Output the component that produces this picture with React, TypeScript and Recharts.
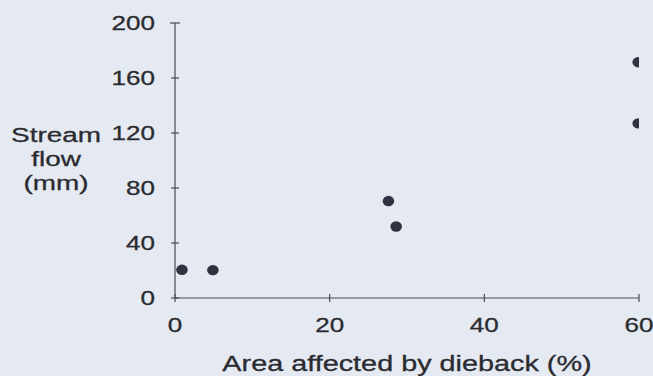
import React from 'react';
import { ScatterChart, Scatter, XAxis, YAxis, Label } from 'recharts';

const dieback = [0.9, 4.9, 27.6, 28.6, 59.9, 59.9];
const streamflow = [20.5, 20.3, 70.5, 52, 171.5, 127];
const xTicks = [0, 20, 40, 60];
const yTicks = [0, 40, 80, 120, 160, 200];
const yLabelLines = ['Stream', 'flow', '(mm)'];
const xLabelText = 'Area affected by dieback (%)';

const points = dieback.map((d, i) => ({ x: d, y: streamflow[i] }));

const FONT = "'Liberation Sans', Arial, sans-serif";
const TEXT = '#2a2b30';
const AXIS = '#4a4c52';
const DOT = '#2f3240';
const BG = '#e5e9f1';
const STRETCH = 1.27;
const Y_GAP = 20;
const X_GAP = 27;

const YTick = (props: any) => {
  const { x, y, payload } = props;
  const ax = x + Y_GAP;
  const isTop = payload.value === 200;
  return (
    <g>
      <line x1={ax - (isTop ? 5 : 4)} x2={ax + (isTop ? 5 : 4)} y1={y} y2={y} stroke={AXIS} strokeWidth={1.2} />
      <text
        transform={`translate(${x},${y}) scale(${STRETCH},1)`}
        textAnchor="end"
        dominantBaseline="central"
        fontFamily={FONT}
        fontSize={20.5}
        fill={TEXT}
        stroke={TEXT}
        strokeWidth={0.3}
      >
        {payload.value}
      </text>
    </g>
  );
};

const XTick = (props: any) => {
  const { x, y, payload } = props;
  const ay = y - X_GAP;
  return (
    <g>
      <line x1={x} x2={x} y1={ay - 4} y2={ay + 4} stroke={AXIS} strokeWidth={1.2} />
      <text
        transform={`translate(${x},${y}) scale(${STRETCH},1)`}
        textAnchor="middle"
        dominantBaseline="central"
        fontFamily={FONT}
        fontSize={20.5}
        fill={TEXT}
        stroke={TEXT}
        strokeWidth={0.3}
      >
        {payload.value}
      </text>
    </g>
  );
};

const YLabel = (props: any) => {
  const vb = props.viewBox || { x: 0, y: 23, width: 175, height: 275 };
  const cy = vb.y + vb.height / 2;
  const cx = 56;
  const offsets = [-18.5, 5.5, 29.5];
  return (
    <g>
      {yLabelLines.map((t, i) => (
        <text
          key={t}
          transform={`translate(${cx},${cy + offsets[i]}) scale(1.33,1)`}
          textAnchor="middle"
          fontFamily={FONT}
          fontSize={21}
          fill={TEXT}
          stroke={TEXT}
          strokeWidth={0.3}
        >
          {t}
        </text>
      ))}
    </g>
  );
};

const XLabel = (props: any) => {
  const vb = props.viewBox || { x: 175, y: 298, width: 464, height: 78 };
  const cx = vb.x + vb.width / 2;
  const by = vb.y + 73;
  return (
    <text
      transform={`translate(${cx},${by}) scale(1.31,1)`}
      textAnchor="middle"
      fontFamily={FONT}
      fontSize={22}
      fill={TEXT}
      stroke={TEXT}
      strokeWidth={0.3}
    >
      {xLabelText}
    </text>
  );
};

const Dot = (props: any) => {
  const { cx, cy } = props;
  return <ellipse cx={cx} cy={cy} rx={5.8} ry={5.2} fill={DOT} />;
};

export default function App() {
  return (
    <div style={{ position: 'absolute', left: 0, top: 0, width: 653, height: 376, background: BG }}>
      <ScatterChart width={653} height={376} margin={{ top: 23, right: 14, bottom: 0, left: 0 }}>
        <XAxis
          type="number"
          dataKey="x"
          domain={[0, 60]}
          ticks={xTicks}
          interval={0}
          tickSize={0}
          tickMargin={X_GAP}
          tick={<XTick />}
          tickLine={false}
          axisLine={{ stroke: AXIS, strokeWidth: 1.2 }}
          height={78}
          allowDataOverflow
        >
          <Label content={<XLabel />} />
        </XAxis>
        <YAxis
          type="number"
          dataKey="y"
          domain={[0, 200]}
          ticks={yTicks}
          interval={0}
          tickSize={0}
          tickMargin={Y_GAP}
          tick={<YTick />}
          tickLine={false}
          axisLine={{ stroke: AXIS, strokeWidth: 1.2 }}
          width={175}
          allowDataOverflow
        >
          <Label content={<YLabel />} />
        </YAxis>
        <Scatter data={points} shape={<Dot />} isAnimationActive={false} />
      </ScatterChart>
    </div>
  );
}
